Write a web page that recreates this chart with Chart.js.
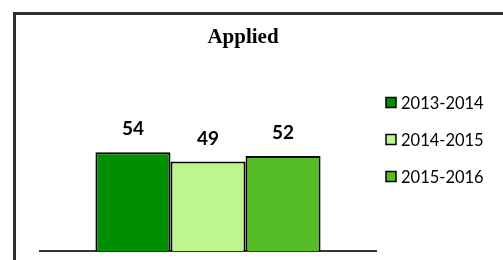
<!DOCTYPE html>
<html>
<head>
<meta charset="utf-8">
<title>Applied</title>
<script src="https://cdn.jsdelivr.net/npm/chart.js@4.4.1/dist/chart.umd.min.js"></script>
<style>
  html, body { margin: 0; padding: 0; background: #fff; overflow: hidden; }
  #wrap { position: relative; width: 503px; height: 260px; overflow: hidden; }
  #frame { position: absolute; left: 13px; top: 12px; width: 600px; height: 400px; border: 3px solid #2e2e2e; box-sizing: border-box; }
  #chart { position: absolute; left: 0; top: 0; }
</style>
</head>
<body>
<div id="wrap">
  <div id="frame"></div>
  <canvas id="chart" width="503" height="260"></canvas>
</div>
<script>
const chartTitle = 'Applied';
const categories = [''];
const seriesNames = ['2013-2014', '2014-2015', '2015-2016'];
const appliedValues = [54, 49, 52];
const seriesColors = ['#008f00', '#bff58f', '#55bd27'];

// numbers above each bar
const valueLabels = {
    id: 'valueLabels',
    afterDatasetsDraw(chart) {
        const ctx = chart.ctx;
        ctx.save();
        ctx.font = 'bold 19px Lato';
        ctx.fillStyle = '#000';
        ctx.textAlign = 'center';
        ctx.textBaseline = 'middle';
        chart.data.datasets.forEach((ds, i) => {
            chart.getDatasetMeta(i).data.forEach((bar, j) => {
                ctx.fillText(ds.data[j], bar.x, bar.y - 23);
            });
        });
        ctx.restore();
    }
};

// legend on the right, drawn from the datasets
const sideLegend = {
    id: 'sideLegend',
    afterDraw(chart) {
        const ctx = chart.ctx;
        const x = chart.chartArea.right + 10;
        ctx.save();
        ctx.font = '16.5px Lato';
        ctx.textBaseline = 'middle';
        ctx.textAlign = 'left';
        chart.data.datasets.forEach((ds, i) => {
            const cy = 102.5 + i * 37;
            ctx.fillStyle = ds.backgroundColor;
            ctx.fillRect(x, cy - 5, 10, 10);
            ctx.lineWidth = 1.5;
            ctx.strokeStyle = '#000';
            ctx.strokeRect(x, cy - 5, 10, 10);
            ctx.fillStyle = '#000';
            ctx.fillText(ds.label, x + 15, cy + 1);
        });
        ctx.restore();
    }
};

const datasets = seriesNames.map((name, i) => ({
    label: name,
    data: [appliedValues[i]],
    backgroundColor: seriesColors[i],
    borderColor: '#000',
    borderWidth: 2
}));

new Chart(document.getElementById('chart'), {
    type: 'bar',
    data: { labels: categories, datasets },
    plugins: [valueLabels, sideLegend],
    options: {
        responsive: false,
        animation: false,
        categoryPercentage: 0.67,
        barPercentage: 1,
        layout: { padding: { left: 40, right: 57, top: 25.4, bottom: 9 } },
        plugins: {
            legend: { display: false },
            tooltip: { enabled: false },
            title: {
                display: true,
                text: chartTitle,
                color: '#000',
                font: { family: 'Liberation Serif', size: 21, weight: 'bold' },
                padding: { top: 0, bottom: 54.2 }
            }
        },
        scales: {
            x: {
                grid: { display: false },
                ticks: { display: false },
                border: { display: true, color: '#333', width: 2 },
                afterFit(s) { s.height = 0; }
            },
            y: {
                position: 'right',
                min: 0,
                max: 80,
                grid: { display: false },
                ticks: { display: false },
                border: { display: false },
                afterFit(s) { s.width = 70; }
            }
        }
    }
});
</script>
</body>
</html>
